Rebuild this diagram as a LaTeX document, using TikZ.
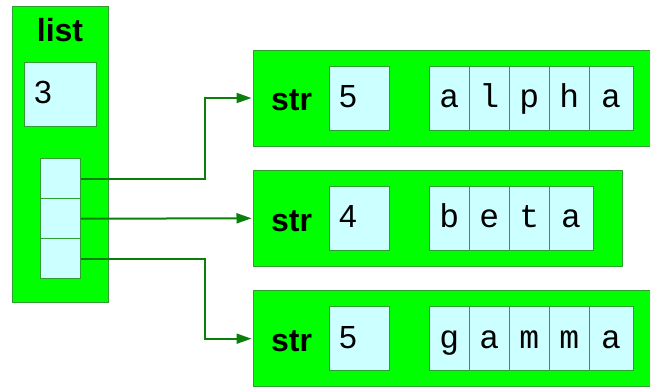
\documentclass[tikz,border=0pt]{standalone}
\usepackage{fontspec}
\usepackage{xcolor}
\usepackage{tikz}
\usetikzlibrary{positioning, arrows.meta}

\newfontfamily\sansfont{Liberation Sans}
\newfontfamily\monofont{Liberation Mono}
\definecolor{boxfill}{HTML}{00FF00}
\definecolor{boxline}{HTML}{2E9E2E}
\definecolor{cellfill}{HTML}{CCFFFF}
\definecolor{linkcol}{HTML}{0A800A}

\begin{document}
\begin{tikzpicture}[x=1pt, y=-1pt, node distance=40pt, on grid,
        frame/.style={draw=boxline, fill=boxfill, line width=0.8pt, inner sep=0pt, minimum height=96pt},
        cell/.style={draw=boxline, fill=cellfill, line width=0.8pt, inner sep=0pt, minimum width=40pt, minimum height=64pt,
                font=\monofont\fontsize{33}{40}\selectfont, text height=24pt, text depth=5pt},
        wide/.style={minimum width=43.6pt, xshift=1.8pt},
        slot/.style={draw=boxline, fill=cellfill, line width=0.8pt, inner sep=0pt, minimum width=40pt, minimum height=40pt},
        count/.style={draw=boxline, fill=cellfill, line width=0.8pt, inner ysep=0pt, inner xsep=10pt, minimum height=64pt,
                align=left, font=\sansfont\fontsize{32}{38}\selectfont, text height=24pt, text depth=5pt},
        title/.style={font=\sansfont\bfseries\fontsize{32}{38}\selectfont, inner sep=0pt},
        link/.style={draw=linkcol, line width=2pt, shorten >=1pt, -{Triangle[length=15pt, width=10pt]}}]
        \useasboundingbox (0,0) rectangle (650,387);

        \node[frame, minimum width=96pt, minimum height=296pt] (lst) at (60,154) {};
        \node[title, anchor=base] (lsttitle) at (60,41.7) {list};
        \node[count, text width=52pt] (lstlen) at (60,94) {3};
        \node[slot] (p1) at (60.5,178.7) {};
        \node[slot] (p2) [below=of p1] {};
        \node[slot] (p3) [below=of p2] {};

        \node[frame, minimum width=409.2pt, anchor=west] (s1) at (252.5,98) {};
        \node[title, anchor=base west] (s1title) at (271,110.8) {str};
        \node[count, text width=40pt, anchor=west] (s1len) at (328.7,98) {5};
        \node[cell] (s1a) at (449.3,98) {a};
        \node[cell] (s1b) [right=of s1a] {l};
        \node[cell] (s1c) [right=of s1b] {p};
        \node[cell] (s1d) [right=of s1c] {h};
        \node[cell, wide] (s1e) [right=of s1d] {a};

        \node[frame, minimum width=369.2pt, anchor=west] (s2) at (252.5,218.3) {};
        \node[title, anchor=base west] (s2title) at (271,231.1) {str};
        \node[count, text width=40pt, anchor=west] (s2len) at (328.7,218.3) {4};
        \node[cell] (s2a) at (449.3,218.3) {b};
        \node[cell] (s2b) [right=of s2a] {e};
        \node[cell] (s2c) [right=of s2b] {t};
        \node[cell, wide] (s2d) [right=of s2c] {a};

        \node[frame, minimum width=409.2pt, anchor=west] (s3) at (252.5,338.7) {};
        \node[title, anchor=base west] (s3title) at (271,351.5) {str};
        \node[count, text width=40pt, anchor=west] (s3len) at (328.7,338.7) {5};
        \node[cell] (s3a) at (449.3,338.7) {g};
        \node[cell] (s3b) [right=of s3a] {a};
        \node[cell] (s3c) [right=of s3b] {m};
        \node[cell] (s3d) [right=of s3c] {m};
        \node[cell, wide] (s3e) [right=of s3d] {a};

        \draw[link] (p1.east) -| ([xshift=-48pt]s1.west) -- (s1.west);
        \draw[link] (p2.east) -- (s2.west);
        \draw[link] (p3.east) -| ([xshift=-48pt]s3.west) -- (s3.west);

    \end{tikzpicture}
\end{document}
